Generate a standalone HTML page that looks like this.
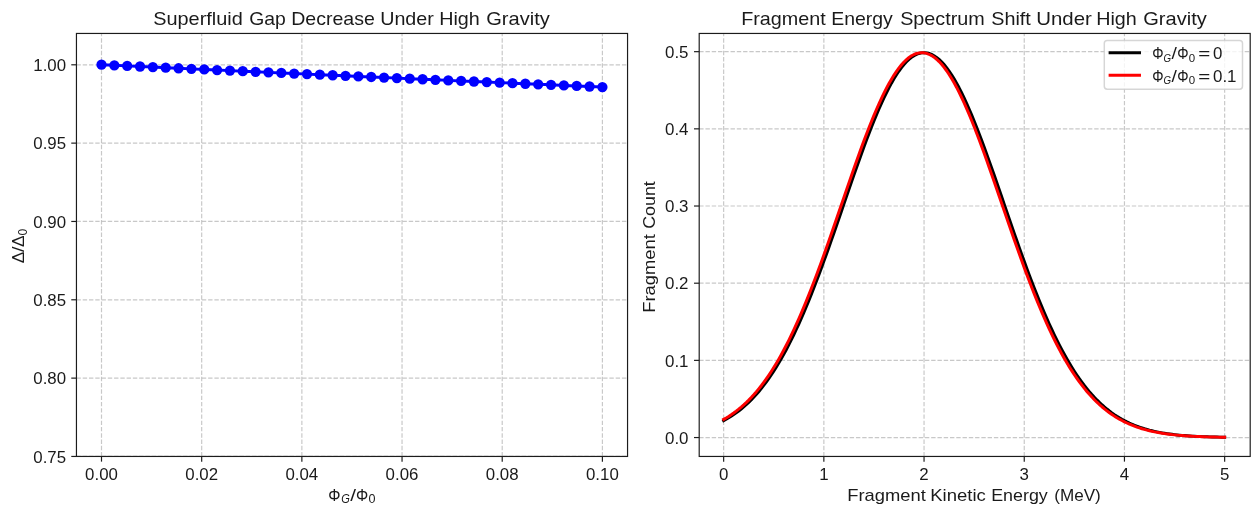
<!DOCTYPE html>
<html lang="en"><head><meta charset="utf-8"><title>Superfluid Gap and Fragment Energy Spectrum Under High Gravity</title>
<style>
html,body{margin:0;padding:0;background:#ffffff;}
body{width:1259px;height:514px;overflow:hidden;font-family:"Liberation Sans",sans-serif;}
svg{display:block;will-change:transform;}
text{font-family:"Liberation Sans",sans-serif;fill:#1a1a1a;}
.grid line{stroke:#b0b0b0;stroke-opacity:0.7;stroke-width:1.18;stroke-dasharray:4.38 1.89;fill:none;}
.spine{fill:none;stroke:#1c1c1c;stroke-width:1.18;}
.tick line{stroke:#1c1c1c;stroke-width:1.18;}
.tl{font-size:15.6px;}
.lab{font-size:16.6px;}
.ttl{font-size:18.1px;}
.sub{font-size:12.3px;font-style:italic;}
.sub0{font-size:12.3px;}
</style></head><body>
<svg width="1259" height="514" viewBox="0 0 1259 514">
<rect x="0" y="0" width="1259" height="514" fill="#ffffff"/>
<g class="grid">
<line x1="101.5" y1="456.45" x2="101.5" y2="33.45"/>
<line x1="201.68" y1="456.45" x2="201.68" y2="33.45"/>
<line x1="301.86" y1="456.45" x2="301.86" y2="33.45"/>
<line x1="402.04" y1="456.45" x2="402.04" y2="33.45"/>
<line x1="502.22" y1="456.45" x2="502.22" y2="33.45"/>
<line x1="602.4" y1="456.45" x2="602.4" y2="33.45"/>
<line x1="76.45" y1="64.8" x2="627.55" y2="64.8"/>
<line x1="76.45" y1="143.13" x2="627.55" y2="143.13"/>
<line x1="76.45" y1="221.46" x2="627.55" y2="221.46"/>
<line x1="76.45" y1="299.79" x2="627.55" y2="299.79"/>
<line x1="76.45" y1="378.12" x2="627.55" y2="378.12"/>
<line x1="76.45" y1="456.45" x2="627.55" y2="456.45"/>
</g>
<polyline fill="none" stroke="#0000ff" stroke-width="2.96" stroke-linejoin="round" points="101.5,64.7 114.34,65.3 127.19,65.89 140.03,66.49 152.87,67.08 165.72,67.68 178.56,68.27 191.41,68.86 204.25,69.45 217.09,70.04 229.94,70.62 242.78,71.21 255.62,71.79 268.47,72.37 281.31,72.95 294.15,73.53 307,74.11 319.84,74.69 332.68,75.26 345.53,75.84 358.37,76.41 371.22,76.98 384.06,77.55 396.9,78.12 409.75,78.69 422.59,79.26 435.43,79.82 448.28,80.39 461.12,80.95 473.96,81.51 486.81,82.07 499.65,82.63 512.49,83.19 525.34,83.74 538.18,84.3 551.03,84.85 563.87,85.4 576.71,85.95 589.56,86.5 602.4,87.05"/>
<g fill="#0000ff">
<circle cx="101.5" cy="64.7" r="5.15"/>
<circle cx="114.34" cy="65.3" r="5.15"/>
<circle cx="127.19" cy="65.89" r="5.15"/>
<circle cx="140.03" cy="66.49" r="5.15"/>
<circle cx="152.87" cy="67.08" r="5.15"/>
<circle cx="165.72" cy="67.68" r="5.15"/>
<circle cx="178.56" cy="68.27" r="5.15"/>
<circle cx="191.41" cy="68.86" r="5.15"/>
<circle cx="204.25" cy="69.45" r="5.15"/>
<circle cx="217.09" cy="70.04" r="5.15"/>
<circle cx="229.94" cy="70.62" r="5.15"/>
<circle cx="242.78" cy="71.21" r="5.15"/>
<circle cx="255.62" cy="71.79" r="5.15"/>
<circle cx="268.47" cy="72.37" r="5.15"/>
<circle cx="281.31" cy="72.95" r="5.15"/>
<circle cx="294.15" cy="73.53" r="5.15"/>
<circle cx="307" cy="74.11" r="5.15"/>
<circle cx="319.84" cy="74.69" r="5.15"/>
<circle cx="332.68" cy="75.26" r="5.15"/>
<circle cx="345.53" cy="75.84" r="5.15"/>
<circle cx="358.37" cy="76.41" r="5.15"/>
<circle cx="371.22" cy="76.98" r="5.15"/>
<circle cx="384.06" cy="77.55" r="5.15"/>
<circle cx="396.9" cy="78.12" r="5.15"/>
<circle cx="409.75" cy="78.69" r="5.15"/>
<circle cx="422.59" cy="79.26" r="5.15"/>
<circle cx="435.43" cy="79.82" r="5.15"/>
<circle cx="448.28" cy="80.39" r="5.15"/>
<circle cx="461.12" cy="80.95" r="5.15"/>
<circle cx="473.96" cy="81.51" r="5.15"/>
<circle cx="486.81" cy="82.07" r="5.15"/>
<circle cx="499.65" cy="82.63" r="5.15"/>
<circle cx="512.49" cy="83.19" r="5.15"/>
<circle cx="525.34" cy="83.74" r="5.15"/>
<circle cx="538.18" cy="84.3" r="5.15"/>
<circle cx="551.03" cy="84.85" r="5.15"/>
<circle cx="563.87" cy="85.4" r="5.15"/>
<circle cx="576.71" cy="85.95" r="5.15"/>
<circle cx="589.56" cy="86.5" r="5.15"/>
<circle cx="602.4" cy="87.05" r="5.15"/>
</g>
<g class="tick">
<line x1="101.5" y1="456.45" x2="101.5" y2="461.63"/>
<line x1="201.68" y1="456.45" x2="201.68" y2="461.63"/>
<line x1="301.86" y1="456.45" x2="301.86" y2="461.63"/>
<line x1="402.04" y1="456.45" x2="402.04" y2="461.63"/>
<line x1="502.22" y1="456.45" x2="502.22" y2="461.63"/>
<line x1="602.4" y1="456.45" x2="602.4" y2="461.63"/>
<line x1="71.27" y1="64.8" x2="76.45" y2="64.8"/>
<line x1="71.27" y1="143.13" x2="76.45" y2="143.13"/>
<line x1="71.27" y1="221.46" x2="76.45" y2="221.46"/>
<line x1="71.27" y1="299.79" x2="76.45" y2="299.79"/>
<line x1="71.27" y1="378.12" x2="76.45" y2="378.12"/>
<line x1="71.27" y1="456.45" x2="76.45" y2="456.45"/>
</g>
<rect class="spine" x="76.45" y="33.45" width="551.1" height="423"/>
<text class="tl" x="85.1" y="479.5" textLength="32.8" lengthAdjust="spacingAndGlyphs">0.00</text>
<text class="tl" x="185.28" y="479.5" textLength="32.8" lengthAdjust="spacingAndGlyphs">0.02</text>
<text class="tl" x="285.46" y="479.5" textLength="32.8" lengthAdjust="spacingAndGlyphs">0.04</text>
<text class="tl" x="385.64" y="479.5" textLength="32.8" lengthAdjust="spacingAndGlyphs">0.06</text>
<text class="tl" x="485.82" y="479.5" textLength="32.8" lengthAdjust="spacingAndGlyphs">0.08</text>
<text class="tl" x="586" y="479.5" textLength="32.8" lengthAdjust="spacingAndGlyphs">0.10</text>
<text class="tl" x="33.3" y="71" textLength="32.8" lengthAdjust="spacingAndGlyphs">1.00</text>
<text class="tl" x="33.3" y="149.33" textLength="32.8" lengthAdjust="spacingAndGlyphs">0.95</text>
<text class="tl" x="33.3" y="227.66" textLength="32.8" lengthAdjust="spacingAndGlyphs">0.90</text>
<text class="tl" x="33.3" y="305.99" textLength="32.8" lengthAdjust="spacingAndGlyphs">0.85</text>
<text class="tl" x="33.3" y="384.32" textLength="32.8" lengthAdjust="spacingAndGlyphs">0.80</text>
<text class="tl" x="33.3" y="462.65" textLength="32.8" lengthAdjust="spacingAndGlyphs">0.75</text>
<text class="ttl" x="153.20" y="24.6" textLength="89.60" lengthAdjust="spacingAndGlyphs">Superfluid</text>
<text class="ttl" x="249.20" y="24.6" textLength="36.60" lengthAdjust="spacingAndGlyphs">Gap</text>
<text class="ttl" x="291.20" y="24.6" textLength="83.60" lengthAdjust="spacingAndGlyphs">Decrease</text>
<text class="ttl" x="380.20" y="24.6" textLength="53.60" lengthAdjust="spacingAndGlyphs">Under</text>
<text class="ttl" x="439.20" y="24.6" textLength="40.60" lengthAdjust="spacingAndGlyphs">High</text>
<text class="ttl" x="486.20" y="24.6" textLength="63.60" lengthAdjust="spacingAndGlyphs">Gravity</text>
<text class="lab" x="328.2" y="500.9" textLength="12.2" lengthAdjust="spacingAndGlyphs">&#934;</text>
<text class="sub" x="341.2" y="503" textLength="8.6" lengthAdjust="spacingAndGlyphs">G</text>
<text class="lab" x="350.3" y="500.9" textLength="5.8" lengthAdjust="spacingAndGlyphs">/</text>
<text class="lab" x="356.1" y="500.9" textLength="12.2" lengthAdjust="spacingAndGlyphs">&#934;</text>
<text class="sub0" x="368.6" y="503" textLength="7" lengthAdjust="spacingAndGlyphs">0</text>
<g transform="translate(24.2 263.2) rotate(-90)">
<text class="lab" x="0" y="0" textLength="11.6" lengthAdjust="spacingAndGlyphs">&#916;</text>
<text class="lab" x="11.3" y="0" textLength="5.6" lengthAdjust="spacingAndGlyphs">/</text>
<text class="lab" x="16.2" y="0" textLength="11.6" lengthAdjust="spacingAndGlyphs">&#916;</text>
<text class="sub0" x="27.8" y="2.6" textLength="6.8" lengthAdjust="spacingAndGlyphs">0</text>
</g>
<g class="grid">
<line x1="723.65" y1="456.45" x2="723.65" y2="33.45"/>
<line x1="823.85" y1="456.45" x2="823.85" y2="33.45"/>
<line x1="924.05" y1="456.45" x2="924.05" y2="33.45"/>
<line x1="1024.25" y1="456.45" x2="1024.25" y2="33.45"/>
<line x1="1124.45" y1="456.45" x2="1124.45" y2="33.45"/>
<line x1="1224.65" y1="456.45" x2="1224.65" y2="33.45"/>
<line x1="699.2" y1="437.55" x2="1250.2" y2="437.55"/>
<line x1="699.2" y1="360.37" x2="1250.2" y2="360.37"/>
<line x1="699.2" y1="283.2" x2="1250.2" y2="283.2"/>
<line x1="699.2" y1="206.02" x2="1250.2" y2="206.02"/>
<line x1="699.2" y1="128.85" x2="1250.2" y2="128.85"/>
<line x1="699.2" y1="51.67" x2="1250.2" y2="51.67"/>
</g>
<polyline fill="none" stroke="#000000" stroke-width="2.96" stroke-linejoin="round" stroke-linecap="square" points="723.65,420.64 726.15,419.28 728.66,417.82 731.16,416.27 733.67,414.62 736.17,412.86 738.68,411 741.18,409.02 743.69,406.93 746.19,404.72 748.7,402.38 751.2,399.91 753.71,397.3 756.22,394.56 758.72,391.67 761.23,388.64 763.73,385.46 766.24,382.13 768.74,378.65 771.25,375 773.75,371.19 776.25,367.22 778.76,363.09 781.26,358.79 783.77,354.32 786.27,349.68 788.78,344.88 791.28,339.91 793.79,334.77 796.29,329.47 798.8,324.01 801.3,318.38 803.81,312.6 806.31,306.67 808.82,300.59 811.32,294.37 813.83,288.01 816.34,281.52 818.84,274.91 821.35,268.18 823.85,261.35 826.36,254.42 828.86,247.4 831.37,240.31 833.87,233.15 836.38,225.94 838.88,218.69 841.38,211.41 843.89,204.12 846.39,196.83 848.9,189.55 851.4,182.3 853.91,175.1 856.41,167.95 858.92,160.89 861.42,153.91 863.93,147.04 866.43,140.3 868.94,133.7 871.44,127.25 873.95,120.97 876.45,114.89 878.96,109 881.47,103.34 883.97,97.91 886.48,92.73 888.98,87.82 891.49,83.17 893.99,78.82 896.5,74.77 899,71.03 901.5,67.61 904.01,64.53 906.51,61.79 909.02,59.4 911.52,57.36 914.03,55.69 916.53,54.38 919.04,53.44 921.54,52.88 924.05,52.69 926.55,52.88 929.06,53.44 931.57,54.38 934.07,55.69 936.58,57.36 939.08,59.4 941.59,61.79 944.09,64.53 946.6,67.61 949.1,71.03 951.61,74.77 954.11,78.82 956.62,83.17 959.12,87.82 961.62,92.73 964.13,97.91 966.63,103.34 969.14,109 971.64,114.89 974.15,120.97 976.65,127.25 979.16,133.7 981.66,140.3 984.17,147.04 986.67,153.91 989.18,160.89 991.68,167.95 994.19,175.1 996.69,182.3 999.2,189.55 1001.71,196.83 1004.21,204.12 1006.71,211.41 1009.22,218.69 1011.72,225.94 1014.23,233.15 1016.74,240.31 1019.24,247.4 1021.75,254.42 1024.25,261.35 1026.76,268.18 1029.26,274.91 1031.76,281.52 1034.27,288.01 1036.78,294.37 1039.28,300.59 1041.79,306.67 1044.29,312.6 1046.8,318.38 1049.3,324.01 1051.81,329.47 1054.31,334.77 1056.82,339.91 1059.32,344.88 1061.83,349.68 1064.33,354.32 1066.84,358.79 1069.34,363.09 1071.85,367.22 1074.35,371.19 1076.86,375 1079.36,378.65 1081.87,382.13 1084.37,385.46 1086.88,388.64 1089.38,391.67 1091.88,394.56 1094.39,397.3 1096.89,399.91 1099.4,402.38 1101.9,404.72 1104.41,406.93 1106.91,409.02 1109.42,411 1111.92,412.86 1114.43,414.62 1116.93,416.27 1119.44,417.82 1121.94,419.28 1124.45,420.64 1126.95,421.92 1129.46,423.11 1131.97,424.23 1134.47,425.27 1136.97,426.25 1139.48,427.15 1141.98,427.99 1144.49,428.78 1147,429.5 1149.5,430.18 1152.01,430.8 1154.51,431.38 1157.01,431.91 1159.52,432.4 1162.03,432.86 1164.53,433.27 1167.03,433.66 1169.54,434.01 1172.05,434.34 1174.55,434.63 1177.06,434.91 1179.56,435.16 1182.07,435.38 1184.57,435.59 1187.08,435.78 1189.58,435.96 1192.09,436.11 1194.59,436.26 1197.1,436.39 1199.6,436.5 1202.11,436.61 1204.61,436.71 1207.12,436.8 1209.62,436.87 1212.12,436.95 1214.63,437.01 1217.13,437.07 1219.64,437.12 1222.14,437.17 1224.65,437.21"/>
<polyline fill="none" stroke="#ff0000" stroke-width="2.96" stroke-linejoin="round" stroke-linecap="square" points="723.65,419.39 726.15,417.94 728.66,416.4 731.16,414.75 733.67,413.01 736.17,411.15 738.68,409.19 741.18,407.1 743.69,404.9 746.19,402.57 748.7,400.11 751.2,397.52 753.71,394.78 756.22,391.91 758.72,388.89 761.23,385.72 763.73,382.41 766.24,378.93 768.74,375.3 771.25,371.5 773.75,367.55 776.25,363.42 778.76,359.14 781.26,354.68 783.77,350.06 786.27,345.27 788.78,340.31 791.28,335.19 793.79,329.9 796.29,324.45 798.8,318.84 801.3,313.07 803.81,307.15 806.31,301.08 808.82,294.87 811.32,288.52 813.83,282.04 816.34,275.44 818.84,268.72 821.35,261.9 823.85,254.98 826.36,247.97 828.86,240.88 831.37,233.73 833.87,226.52 836.38,219.27 838.88,212 841.38,204.7 843.89,197.41 846.39,190.13 848.9,182.88 851.4,175.67 853.91,168.52 856.41,161.45 858.92,154.47 861.42,147.59 863.93,140.83 866.43,134.22 868.94,127.76 871.44,121.47 873.95,115.37 876.45,109.47 878.96,103.79 881.47,98.34 883.97,93.14 886.48,88.2 888.98,83.53 891.49,79.16 893.99,75.08 896.5,71.32 899,67.88 901.5,64.77 904.01,62 906.51,59.57 909.02,57.51 911.52,55.81 914.03,54.47 916.53,53.5 919.04,52.91 921.54,52.69 924.05,52.85 926.55,53.38 929.06,54.29 931.57,55.57 934.07,57.21 936.58,59.22 939.08,61.58 941.59,64.3 944.09,67.36 946.6,70.75 949.1,74.46 951.61,78.49 954.11,82.81 956.62,87.43 959.12,92.33 961.62,97.49 964.13,102.9 966.63,108.54 969.14,114.41 971.64,120.48 974.15,126.74 976.65,133.17 979.16,139.77 981.66,146.5 984.17,153.36 986.67,160.33 989.18,167.39 991.68,174.52 994.19,181.72 996.69,188.97 999.2,196.25 1001.71,203.54 1004.21,210.83 1006.71,218.11 1009.22,225.36 1011.72,232.58 1014.23,239.74 1016.74,246.84 1019.24,253.86 1021.75,260.8 1024.25,267.64 1026.76,274.37 1029.26,281 1031.76,287.5 1034.27,293.87 1036.78,300.1 1039.28,306.19 1041.79,312.14 1044.29,317.93 1046.8,323.56 1049.3,329.04 1051.81,334.35 1054.31,339.5 1056.82,344.49 1059.32,349.3 1061.83,353.95 1064.33,358.43 1066.84,362.75 1069.34,366.9 1071.85,370.88 1074.35,374.7 1076.86,378.36 1079.36,381.86 1081.87,385.2 1084.37,388.4 1086.88,391.44 1089.38,394.33 1091.88,397.09 1094.39,399.7 1096.89,402.18 1099.4,404.53 1101.9,406.76 1104.41,408.86 1106.91,410.85 1109.42,412.72 1111.92,414.48 1114.43,416.14 1116.93,417.7 1119.44,419.16 1121.94,420.53 1124.45,421.82 1126.95,423.02 1129.46,424.15 1131.97,425.19 1134.47,426.17 1136.97,427.08 1139.48,427.93 1141.98,428.72 1144.49,429.45 1147,430.13 1149.5,430.75 1152.01,431.33 1154.51,431.87 1157.01,432.37 1159.52,432.82 1162.03,433.24 1164.53,433.63 1167.03,433.99 1169.54,434.31 1172.05,434.61 1174.55,434.89 1177.06,435.14 1179.56,435.37 1182.07,435.58 1184.57,435.77 1187.08,435.94 1189.58,436.1 1192.09,436.25 1194.59,436.38 1197.1,436.5 1199.6,436.6 1202.11,436.7 1204.61,436.79 1207.12,436.87 1209.62,436.94 1212.12,437.01 1214.63,437.06 1217.13,437.12 1219.64,437.16 1222.14,437.21 1224.65,437.24"/>
<g class="tick">
<line x1="723.65" y1="456.45" x2="723.65" y2="461.63"/>
<line x1="823.85" y1="456.45" x2="823.85" y2="461.63"/>
<line x1="924.05" y1="456.45" x2="924.05" y2="461.63"/>
<line x1="1024.25" y1="456.45" x2="1024.25" y2="461.63"/>
<line x1="1124.45" y1="456.45" x2="1124.45" y2="461.63"/>
<line x1="1224.65" y1="456.45" x2="1224.65" y2="461.63"/>
<line x1="694.02" y1="437.55" x2="699.2" y2="437.55"/>
<line x1="694.02" y1="360.37" x2="699.2" y2="360.37"/>
<line x1="694.02" y1="283.2" x2="699.2" y2="283.2"/>
<line x1="694.02" y1="206.02" x2="699.2" y2="206.02"/>
<line x1="694.02" y1="128.85" x2="699.2" y2="128.85"/>
<line x1="694.02" y1="51.67" x2="699.2" y2="51.67"/>
</g>
<rect class="spine" x="699.2" y="33.45" width="551" height="423"/>
<text class="tl" x="718.95" y="479.5" textLength="9.4" lengthAdjust="spacingAndGlyphs">0</text>
<text class="tl" x="819.15" y="479.5" textLength="9.4" lengthAdjust="spacingAndGlyphs">1</text>
<text class="tl" x="919.35" y="479.5" textLength="9.4" lengthAdjust="spacingAndGlyphs">2</text>
<text class="tl" x="1019.55" y="479.5" textLength="9.4" lengthAdjust="spacingAndGlyphs">3</text>
<text class="tl" x="1119.75" y="479.5" textLength="9.4" lengthAdjust="spacingAndGlyphs">4</text>
<text class="tl" x="1219.95" y="479.5" textLength="9.4" lengthAdjust="spacingAndGlyphs">5</text>
<text class="tl" x="665" y="443.75" textLength="23.5" lengthAdjust="spacingAndGlyphs">0.0</text>
<text class="tl" x="665" y="366.57" textLength="23.5" lengthAdjust="spacingAndGlyphs">0.1</text>
<text class="tl" x="665" y="289.4" textLength="23.5" lengthAdjust="spacingAndGlyphs">0.2</text>
<text class="tl" x="665" y="212.22" textLength="23.5" lengthAdjust="spacingAndGlyphs">0.3</text>
<text class="tl" x="665" y="135.05" textLength="23.5" lengthAdjust="spacingAndGlyphs">0.4</text>
<text class="tl" x="665" y="57.87" textLength="23.5" lengthAdjust="spacingAndGlyphs">0.5</text>
<text class="ttl" x="741.20" y="24.6" textLength="84.60" lengthAdjust="spacingAndGlyphs">Fragment</text>
<text class="ttl" x="831.20" y="24.6" textLength="61.60" lengthAdjust="spacingAndGlyphs">Energy</text>
<text class="ttl" x="900.20" y="24.6" textLength="84.60" lengthAdjust="spacingAndGlyphs">Spectrum</text>
<text class="ttl" x="991.20" y="24.6" textLength="39.60" lengthAdjust="spacingAndGlyphs">Shift</text>
<text class="ttl" x="1036.20" y="24.6" textLength="55.60" lengthAdjust="spacingAndGlyphs">Under</text>
<text class="ttl" x="1096.20" y="24.6" textLength="40.60" lengthAdjust="spacingAndGlyphs">High</text>
<text class="ttl" x="1143.20" y="24.6" textLength="63.60" lengthAdjust="spacingAndGlyphs">Gravity</text>
<text class="lab" x="847.20" y="500.8" textLength="78.60" lengthAdjust="spacingAndGlyphs">Fragment</text>
<text class="lab" x="930.20" y="500.8" textLength="55.60" lengthAdjust="spacingAndGlyphs">Kinetic</text>
<text class="lab" x="991.20" y="500.8" textLength="56.60" lengthAdjust="spacingAndGlyphs">Energy</text>
<text class="lab" x="1054.20" y="500.8" textLength="46.60" lengthAdjust="spacingAndGlyphs">(MeV)</text>
<text class="lab" transform="translate(655.3 312.80) rotate(-90)" x="0" y="0" textLength="78.60" lengthAdjust="spacingAndGlyphs">Fragment</text>
<text class="lab" transform="translate(655.3 228.80) rotate(-90)" x="0" y="0" textLength="47.60" lengthAdjust="spacingAndGlyphs">Count</text>
<rect x="1104.3" y="40.4" width="138.2" height="48.8" rx="2.9" ry="2.9" fill="#ffffff" fill-opacity="0.8" stroke="#cccccc" stroke-opacity="0.8" stroke-width="1.48"/>
<line x1="1110.1" y1="52.7" x2="1139.5" y2="52.7" stroke="#000000" stroke-width="2.96" stroke-linecap="square"/>
<line x1="1110.1" y1="75.2" x2="1139.5" y2="75.2" stroke="#ff0000" stroke-width="2.96" stroke-linecap="square"/>
<text class="tl" x="1152.3" y="59.3" textLength="11.3" lengthAdjust="spacingAndGlyphs">&#934;</text>
<text class="sub" style="font-size:10.6px" x="1163.6" y="61.699999999999996" textLength="7.6" lengthAdjust="spacingAndGlyphs">G</text>
<text class="tl" x="1171.6" y="59.3" textLength="5.4" lengthAdjust="spacingAndGlyphs">/</text>
<text class="tl" x="1177.2" y="59.3" textLength="11.3" lengthAdjust="spacingAndGlyphs">&#934;</text>
<text class="sub0" style="font-size:10.6px" x="1188.7" y="61.699999999999996" textLength="6.4" lengthAdjust="spacingAndGlyphs">0</text>
<text class="tl" x="1198.2" y="59.3" textLength="12" lengthAdjust="spacingAndGlyphs">=</text>
<text class="tl" x="1213" y="59.3" textLength="9.4" lengthAdjust="spacingAndGlyphs">0</text>
<text class="tl" x="1152.3" y="81.5" textLength="11.3" lengthAdjust="spacingAndGlyphs">&#934;</text>
<text class="sub" style="font-size:10.6px" x="1163.6" y="83.9" textLength="7.6" lengthAdjust="spacingAndGlyphs">G</text>
<text class="tl" x="1171.6" y="81.5" textLength="5.4" lengthAdjust="spacingAndGlyphs">/</text>
<text class="tl" x="1177.2" y="81.5" textLength="11.3" lengthAdjust="spacingAndGlyphs">&#934;</text>
<text class="sub0" style="font-size:10.6px" x="1188.7" y="83.9" textLength="6.4" lengthAdjust="spacingAndGlyphs">0</text>
<text class="tl" x="1198.2" y="81.5" textLength="12" lengthAdjust="spacingAndGlyphs">=</text>
<text class="tl" x="1213" y="81.5" textLength="23.5" lengthAdjust="spacingAndGlyphs">0.1</text>
</svg>
</body></html>
